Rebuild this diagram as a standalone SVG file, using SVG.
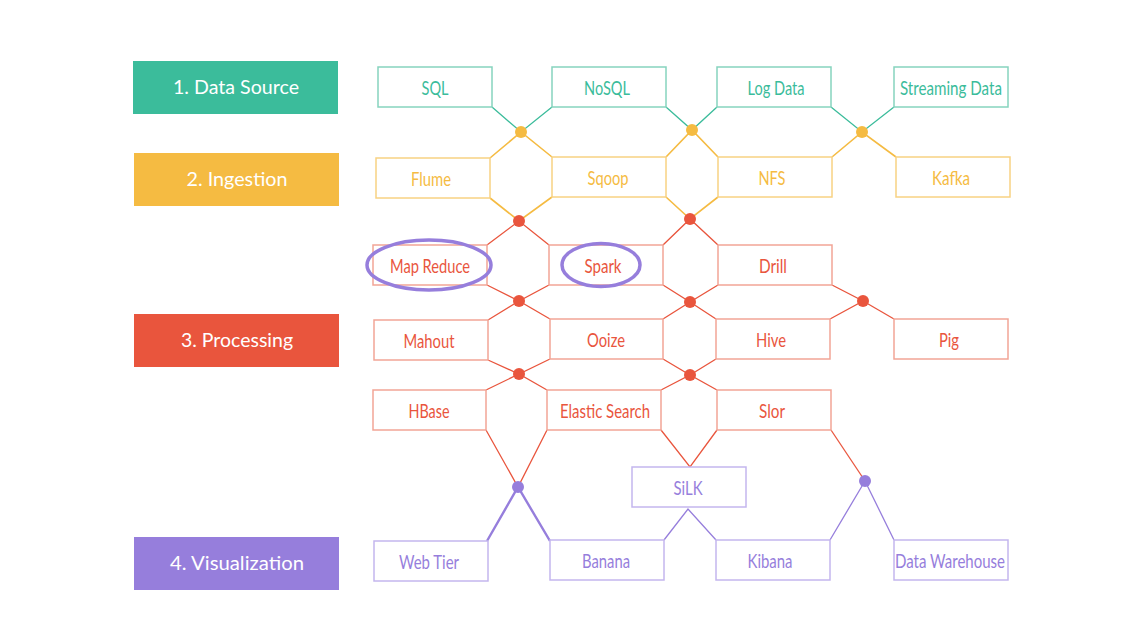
<svg xmlns="http://www.w3.org/2000/svg" width="1146" height="641" viewBox="0 0 1146 641">
<style>
  .lbl { font-family: Lato, "Open Sans", "Liberation Sans", sans-serif; font-size: 19.5px; fill: #ffffff; text-anchor: middle; }
  .nt { font-family: Lato, "Open Sans", "Liberation Sans", sans-serif; font-size: 20px; text-anchor: middle; }
  .box { fill: #ffffff; stroke-width: 1.5; }
  .g1 rect { stroke: #86D4BE; } .g1 text { fill: #3BBC9B; }
  .g2 rect { stroke: #F8D283; } .g2 text { fill: #F5BB42; }
  .g3 rect { stroke: #F2A596; } .g3 text { fill: #E9553D; }
  .g4 rect { stroke: #C4B6EE; } .g4 text { fill: #967EDC; }
  .c1 { stroke: #3BBC9B; stroke-width: 1.3; fill: none; }
  .c2 { stroke: #F5BB42; stroke-width: 1.6; fill: none; }
  .c3 { stroke: #E9553D; stroke-width: 1.3; fill: none; }
  .c4 { stroke: #967EDC; stroke-width: 1.6; fill: none; }
  .ring { fill: none; stroke: #967EDC; stroke-width: 3.5; }
</style>
<rect width="1146" height="641" fill="#ffffff"/>

<g id="stages">
  <g id="stage-data-source"><rect x="133" y="61" width="205" height="53" fill="#3BBC9B"/><text class="lbl" x="236" y="94" textLength="126" lengthAdjust="spacingAndGlyphs">1. Data Source</text></g>
  <g id="stage-ingestion"><rect x="134" y="153" width="205" height="53" fill="#F5BB42"/><text class="lbl" x="237" y="186" textLength="101" lengthAdjust="spacingAndGlyphs">2. Ingestion</text></g>
  <g id="stage-processing"><rect x="134" y="314" width="205" height="53" fill="#E9553D"/><text class="lbl" x="237" y="347" textLength="112" lengthAdjust="spacingAndGlyphs">3. Processing</text></g>
  <g id="stage-visualization"><rect x="134" y="537" width="205" height="53" fill="#967EDC"/><text class="lbl" x="237" y="570" textLength="134" lengthAdjust="spacingAndGlyphs">4. Visualization</text></g>
</g>

<g id="connectors">
  <path class="c1" d="M492,107 L521,132 L552,107"/>
  <path class="c1" d="M666,107 L692,130 L717,107"/>
  <path class="c1" d="M831,107 L862,132 L894,107"/>
  <path class="c2" d="M490,158 L521,132 L552,157"/>
  <path class="c2" d="M666,157 L692,130 L718,157"/>
  <path class="c2" d="M832,157 L862,132 L896,157"/>
  <path class="c2" d="M490,198 L519,221 L552,197"/>
  <path class="c2" d="M666,197 L690,219 L718,197"/>
  <path class="c3" d="M487,245 L519,221 L549,245"/>
  <path class="c3" d="M663,245 L690,219 L718,245"/>
  <path class="c3" d="M487,285 L519,301 L549,285"/>
  <path class="c3" d="M488,320 L519,301 L550,319"/>
  <path class="c3" d="M663,285 L690,302 L718,285"/>
  <path class="c3" d="M663,319 L690,302 L716,319"/>
  <path class="c3" d="M832,285 L863,301 L830,319"/>
  <path class="c3" d="M863,301 L894,319"/>
  <path class="c3" d="M488,360 L519,374 L550,359"/>
  <path class="c3" d="M486,390 L519,374 L547,390"/>
  <path class="c3" d="M663,359 L690,375 L716,359"/>
  <path class="c3" d="M661,390 L690,375 L717,390"/>
  <path class="c3" d="M486,430 L518,487 L547,430"/>
  <path class="c3" d="M661,430 L690,467 L717,430"/>
  <path class="c3" d="M831,430 L865,481"/>
  <path class="c4" d="M487,541 L518,487 L550,541" style="stroke-width:2.4"/>
  <path class="c4" d="M664,540 L688,509 L716,540" style="stroke-width:1.3"/>
  <path class="c4" d="M830,540 L865,481 L894,540" style="stroke-width:1.3"/>
  <circle cx="521" cy="132" r="6" fill="#F5BB42"/>
  <circle cx="692" cy="130" r="6" fill="#F5BB42"/>
  <circle cx="862" cy="132" r="6" fill="#F5BB42"/>
  <circle cx="519" cy="221" r="6" fill="#E9553D"/>
  <circle cx="690" cy="219" r="6" fill="#E9553D"/>
  <circle cx="519" cy="301" r="6" fill="#E9553D"/>
  <circle cx="690" cy="302" r="6" fill="#E9553D"/>
  <circle cx="863" cy="301" r="6" fill="#E9553D"/>
  <circle cx="519" cy="374" r="6" fill="#E9553D"/>
  <circle cx="690" cy="375" r="6" fill="#E9553D"/>
  <circle cx="518" cy="487" r="6" fill="#967EDC"/>
  <circle cx="865" cy="481" r="6" fill="#967EDC"/>
</g>

<g id="n-sql" class="g1"><rect class="box" x="378" y="67" width="114" height="40"/><text class="nt" x="435" y="95" textLength="27" lengthAdjust="spacingAndGlyphs">SQL</text></g>
<g id="n-nosql" class="g1"><rect class="box" x="552" y="67" width="114" height="40"/><text class="nt" x="607" y="95" textLength="46" lengthAdjust="spacingAndGlyphs">NoSQL</text></g>
<g id="n-logdata" class="g1"><rect class="box" x="717" y="67" width="114" height="40"/><text class="nt" x="776" y="95" textLength="57" lengthAdjust="spacingAndGlyphs">Log Data</text></g>
<g id="n-streaming" class="g1"><rect class="box" x="894" y="67" width="114" height="40"/><text class="nt" x="951" y="95" textLength="102" lengthAdjust="spacingAndGlyphs">Streaming Data</text></g>

<g id="n-flume" class="g2"><rect class="box" x="376" y="158" width="114" height="40"/><text class="nt" x="431" y="186" textLength="40" lengthAdjust="spacingAndGlyphs">Flume</text></g>
<g id="n-sqoop" class="g2"><rect class="box" x="552" y="157" width="114" height="40"/><text class="nt" x="608" y="185" textLength="41" lengthAdjust="spacingAndGlyphs">Sqoop</text></g>
<g id="n-nfs" class="g2"><rect class="box" x="718" y="157" width="114" height="40"/><text class="nt" x="772" y="185" textLength="27" lengthAdjust="spacingAndGlyphs">NFS</text></g>
<g id="n-kafka" class="g2"><rect class="box" x="896" y="157" width="114" height="40"/><text class="nt" x="951" y="185" textLength="38" lengthAdjust="spacingAndGlyphs">Kafka</text></g>

<g id="n-mapreduce" class="g3"><rect class="box" x="373" y="245" width="114" height="40"/><text class="nt" x="430" y="273" textLength="80" lengthAdjust="spacingAndGlyphs">Map Reduce</text></g>
<g id="n-spark" class="g3"><rect class="box" x="549" y="245" width="114" height="40"/><text class="nt" x="603" y="273" textLength="37" lengthAdjust="spacingAndGlyphs">Spark</text></g>
<g id="n-drill" class="g3"><rect class="box" x="718" y="245" width="114" height="40"/><text class="nt" x="773" y="273" textLength="28" lengthAdjust="spacingAndGlyphs">Drill</text></g>

<g id="n-mahout" class="g3"><rect class="box" x="374" y="320" width="114" height="40"/><text class="nt" x="429" y="348" textLength="51" lengthAdjust="spacingAndGlyphs">Mahout</text></g>
<g id="n-ooize" class="g3"><rect class="box" x="550" y="319" width="113" height="40"/><text class="nt" x="606" y="347" textLength="38" lengthAdjust="spacingAndGlyphs">Ooize</text></g>
<g id="n-hive" class="g3"><rect class="box" x="716" y="319" width="114" height="40"/><text class="nt" x="771" y="347" textLength="30" lengthAdjust="spacingAndGlyphs">Hive</text></g>
<g id="n-pig" class="g3"><rect class="box" x="894" y="319" width="114" height="40"/><text class="nt" x="949" y="347" textLength="20" lengthAdjust="spacingAndGlyphs">Pig</text></g>

<g id="n-hbase" class="g3"><rect class="box" x="373" y="390" width="113" height="40"/><text class="nt" x="429" y="418" textLength="41" lengthAdjust="spacingAndGlyphs">HBase</text></g>
<g id="n-elastic" class="g3"><rect class="box" x="547" y="390" width="114" height="40"/><text class="nt" x="605" y="418" textLength="90" lengthAdjust="spacingAndGlyphs">Elastic Search</text></g>
<g id="n-slor" class="g3"><rect class="box" x="717" y="390" width="114" height="40"/><text class="nt" x="772" y="418" textLength="26" lengthAdjust="spacingAndGlyphs">Slor</text></g>

<g id="n-silk" class="g4"><rect class="box" x="632" y="467" width="114" height="40"/><text class="nt" x="688" y="495" textLength="29" lengthAdjust="spacingAndGlyphs">SiLK</text></g>

<g id="n-webtier" class="g4"><rect class="box" x="374" y="541" width="114" height="40"/><text class="nt" x="429" y="569" textLength="60" lengthAdjust="spacingAndGlyphs">Web Tier</text></g>
<g id="n-banana" class="g4"><rect class="box" x="550" y="540" width="114" height="40"/><text class="nt" x="606" y="568" textLength="48" lengthAdjust="spacingAndGlyphs">Banana</text></g>
<g id="n-kibana" class="g4"><rect class="box" x="716" y="540" width="114" height="40"/><text class="nt" x="770" y="568" textLength="45" lengthAdjust="spacingAndGlyphs">Kibana</text></g>
<g id="n-datawarehouse" class="g4"><rect class="box" x="894" y="540" width="114" height="40"/><text class="nt" x="950" y="568" textLength="110" lengthAdjust="spacingAndGlyphs">Data Warehouse</text></g>

<g id="highlights">
  <ellipse class="ring" cx="429" cy="265" rx="62" ry="25"/>
  <ellipse class="ring" cx="601" cy="265" rx="39" ry="21.5"/>
</g>
</svg>
